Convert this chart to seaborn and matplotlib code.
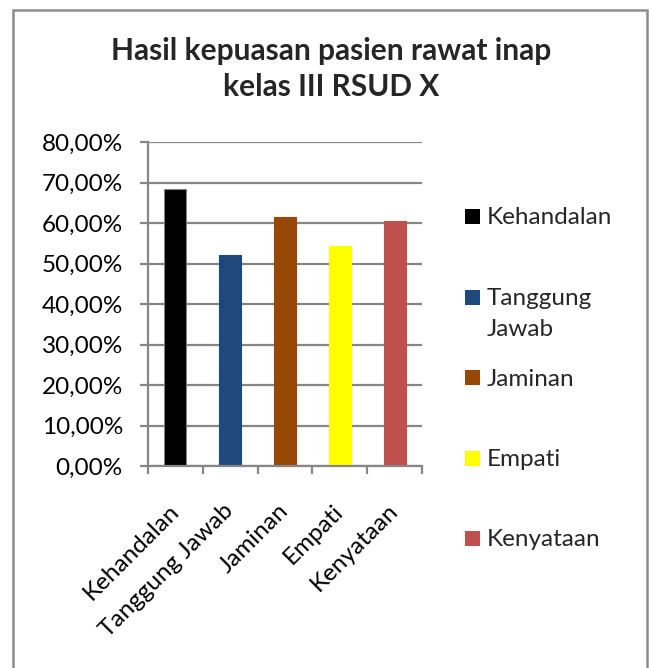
import matplotlib
matplotlib.use("Agg")
import matplotlib.pyplot as plt
import matplotlib.patches as mpatches
from matplotlib.ticker import FuncFormatter, FixedLocator
import seaborn as sns
import pandas as pd

categories = ["Kehandalan", "Tanggung Jawab", "Jaminan", "Empati", "Kenyataan"]
legend_labels = ["Kehandalan", "Tanggung\nJawab", "Jaminan", "Empati", "Kenyataan"]
values = [0.683, 0.522, 0.614, 0.544, 0.604]
colors = ["#000000", "#1F497D", "#974706", "#FFFF00", "#C0504D"]
yticks = [0.0, 0.1, 0.2, 0.3, 0.4, 0.5, 0.6, 0.7, 0.8]
title = "Hasil kepuasan pasien rawat inap\nkelas III RSUD X"

sns.set_theme(style="white")
plt.rcParams["font.family"] = ["Lato", "DejaVu Sans"]

W, H = 650, 668
FS = 17.5
fig = plt.figure(figsize=(W / 100, H / 100), dpi=100)
ax = fig.add_axes([148 / W, 1 - 466 / H, (422 - 148) / W, (466 - 142) / H])

df = pd.DataFrame({"cat": categories, "val": values})
sns.barplot(data=df, x="cat", y="val", hue="cat", palette=colors, width=0.4,
            legend=False, ax=ax, saturation=1)
for p, c in zip(ax.patches, colors):
    p.set_edgecolor("#808080" if c == "#000000" else c)
    p.set_linewidth(0.8)

grid_c = "#868686"
ax.set_ylim(0, 0.8)
ax.set_xlim(-0.5, len(categories) - 0.5)
ax.set_yticks(yticks)
ax.yaxis.set_major_formatter(FuncFormatter(lambda v, _: f"{v*100:.2f}%".replace(".", ",")))
ax.grid(axis="y", color=grid_c, linewidth=1.6)
ax.set_axisbelow(True)
for s in ["top", "right"]:
    ax.spines[s].set_visible(False)
for s in ["left", "bottom"]:
    ax.spines[s].set_color(grid_c)
    ax.spines[s].set_linewidth(1.6)

ax.tick_params(axis="y", which="major", left=True, length=6, width=1.6, color=grid_c,
               labelsize=FS, labelcolor="black", pad=12)
ax.xaxis.set_minor_locator(FixedLocator([i - 0.5 for i in range(len(categories) + 1)]))
ax.tick_params(axis="x", which="minor", bottom=True, length=6, width=1.6, color=grid_c)
ax.tick_params(axis="x", which="major", bottom=False, length=0, labelsize=FS,
               labelcolor="black", pad=30)
for lbl in ax.get_xticklabels():
    lbl.set_rotation(45)
    lbl.set_ha("right")
    lbl.set_va("center")
    lbl.set_rotation_mode("anchor")
ax.set_xlabel("")
ax.set_ylabel("")

fig.text(331 / W, 1 - 69 / H, title, ha="center", va="center", fontsize=21.5,
         fontweight="bold", linespacing=1.35)

# legend
leg_y = [216, 297, 378, 458, 538]
line_gap = 31
for y, lab, c in zip(leg_y, legend_labels, colors):
    fig.patches.append(mpatches.Rectangle((465 / W, 1 - (y + 7.5) / H), 15 / W, 15 / H,
                                          transform=fig.transFigure, facecolor=c,
                                          edgecolor="none"))
    for k, line in enumerate(lab.split("\n")):
        fig.text(487 / W, 1 - (y + 8 + k * line_gap) / H, line, ha="left",
                 va="baseline", fontsize=FS)

# outer border
fig.patches.append(mpatches.Rectangle((13 / W, -0.05), (647 - 13) / W, 1 - 10 / H + 0.05,
                                      transform=fig.transFigure, facecolor="none",
                                      edgecolor="#8C8C8C", linewidth=1.8))

fig.savefig("out.png", dpi=100)
